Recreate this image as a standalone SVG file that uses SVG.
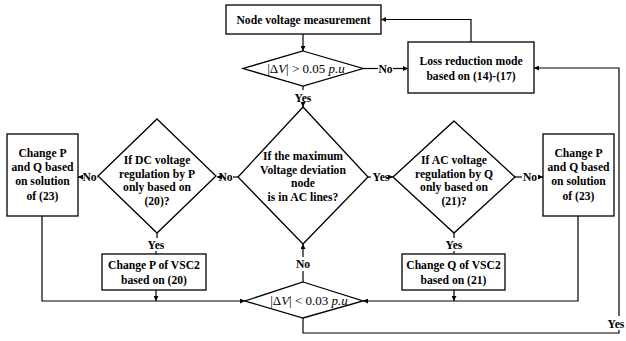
<svg xmlns="http://www.w3.org/2000/svg" width="626" height="341" viewBox="0 0 626 341">
<defs>
<style>
.box{fill:#fff;stroke:#000;stroke-width:1.3}
.ln{fill:none;stroke:#000;stroke-width:1.2}
.t{font-family:"Liberation Serif","Times New Roman",serif;font-weight:bold;font-size:12.8px;fill:#000;text-anchor:middle;transform-box:fill-box;transform-origin:center;transform:scaleX(0.91)}
.m{font-family:"Liberation Serif","Times New Roman",serif;font-size:13px;fill:#000;text-anchor:middle}
.i{font-style:italic}
</style>
<marker id="ah" viewBox="0 0 6 6" refX="6" refY="3" markerWidth="5" markerHeight="5" markerUnits="userSpaceOnUse" orient="auto">
<path d="M0,0 L6,3 L0,6 Z" fill="#000"/>
</marker>
</defs>
<rect width="626" height="341" fill="#fff"/>

<g id="connectors">
<path class="ln" d="M303,34 V51" marker-end="url(#ah)"/>
<path class="ln" d="M363,68.5 H378"/>
<path class="ln" d="M393,68.5 H408" marker-end="url(#ah)"/>
<path class="ln" d="M471,42 V19.5 H381" marker-end="url(#ah)"/>
<path class="ln" d="M303,86 V90"/>
<path class="ln" d="M303,103 V107" marker-end="url(#ah)"/>
<path class="ln" d="M238,177 H233"/>
<path class="ln" d="M221,177 H217" marker-end="url(#ah)"/>
<path class="ln" d="M98,177 H97"/>
<path class="ln" d="M82,177 H78" marker-end="url(#ah)"/>
<path class="ln" d="M368,177 H371"/>
<path class="ln" d="M390,177 H393" marker-end="url(#ah)"/>
<path class="ln" d="M515,177 H522"/>
<path class="ln" d="M538,177 H543" marker-end="url(#ah)"/>
<path class="ln" d="M157,233 V238"/>
<path class="ln" d="M156,251 V254"/>
<path class="ln" d="M454,233 V238"/>
<path class="ln" d="M454,251 V254"/>
<path class="ln" d="M156,290 V301" marker-end="url(#ah)"/>
<path class="ln" d="M454,290 V301" marker-end="url(#ah)"/>
<path class="ln" d="M42,216 V301 H245" marker-end="url(#ah)"/>
<path class="ln" d="M578,216 V301 H363" marker-end="url(#ah)"/>
<path class="ln" d="M303,282 V271"/>
<path class="ln" d="M303,257 V244" marker-end="url(#ah)"/>
<path class="ln" d="M303,318 V333 H619 V330"/>
<path class="ln" d="M619,316 V68 H534" marker-end="url(#ah)"/>
<text class="t" x="385.5" y="73">No</text>
<text class="t" x="303" y="102">Yes</text>
<text class="t" x="225.5" y="181.5">No</text>
<text class="t" x="89.5" y="181.5">No</text>
<text class="t" x="381" y="181.5">Yes</text>
<text class="t" x="530" y="181.5">No</text>
<text class="t" x="156" y="249.5">Yes</text>
<text class="t" x="454" y="249.5">Yes</text>
<text class="t" x="303" y="268">No</text>
<text class="t" x="616" y="328">Yes</text>
</g>

<g id="node-measure">
<rect class="box" x="226" y="5" width="155" height="29"/>
<text class="t" x="303.5" y="24.5">Node voltage measurement</text>
</g>

<g id="node-check1">
<polygon class="box" points="303,51 363,68.5 303,86 243,68.5"/>
<text class="m" x="306" y="73">|Δ<tspan class="i">V</tspan>| &gt; 0.05 <tspan class="i">p.u</tspan></text>
</g>

<g id="node-loss">
<rect class="box" x="408" y="42" width="126" height="51"/>
<text class="t" x="471" y="65.5">Loss reduction mode</text>
<text class="t" x="471" y="80.5">based on (14)-(17)</text>
</g>

<g id="node-maxdev">
<polygon class="box" points="303,107 368,177 303,244 238,177"/>
<text class="t" x="303" y="160.5">If the maximum</text>
<text class="t" x="303" y="174">Voltage deviation</text>
<text class="t" x="303" y="187.5">node</text>
<text class="t" x="303" y="201"> is in AC lines?</text>
</g>

<g id="node-dc">
<polygon class="box" points="157,119 216,176 157,233 98,176"/>
<text class="t" x="157" y="164.5">If DC voltage</text>
<text class="t" x="157" y="178">regulation by P</text>
<text class="t" x="157" y="191.5">only based on</text>
<text class="t" x="157" y="205">(20)?</text>
</g>

<g id="node-ac">
<polygon class="box" points="454,121 515,177 454,233 393,177"/>
<text class="t" x="454" y="164.5">If AC voltage</text>
<text class="t" x="454" y="178">regulation by Q</text>
<text class="t" x="454" y="191.5">only based on</text>
<text class="t" x="454" y="205">(21)?</text>
</g>

<g id="node-left">
<rect class="box" x="7" y="134" width="71" height="82"/>
<text class="t" x="42.5" y="157.5">Change P</text>
<text class="t" x="42.5" y="171.5">and Q based</text>
<text class="t" x="42.5" y="185.5">on solution</text>
<text class="t" x="42.5" y="200.5">of (23)</text>
</g>

<g id="node-right">
<rect class="box" x="543" y="134" width="71" height="82"/>
<text class="t" x="578.5" y="157.5">Change P</text>
<text class="t" x="578.5" y="171.5">and Q based</text>
<text class="t" x="578.5" y="185.5">on solution</text>
<text class="t" x="578.5" y="200.5">of (23)</text>
</g>

<g id="node-changeP">
<rect class="box" x="102" y="254" width="104" height="36"/>
<text class="t" x="154" y="269.5">Change P of VSC2</text>
<text class="t" x="154" y="284.5">based on (20)</text>
</g>

<g id="node-changeQ">
<rect class="box" x="402" y="254" width="103" height="36"/>
<text class="t" x="453.5" y="269.5">Change Q of VSC2</text>
<text class="t" x="453.5" y="284.5">based on (21)</text>
</g>

<g id="node-check2">
<polygon class="box" points="303,282 363,301 303,318 245,301"/>
<text class="m" x="309" y="305">|Δ<tspan class="i">V</tspan>| &lt; 0.03 <tspan class="i">p.u</tspan></text>
</g>
</svg>
